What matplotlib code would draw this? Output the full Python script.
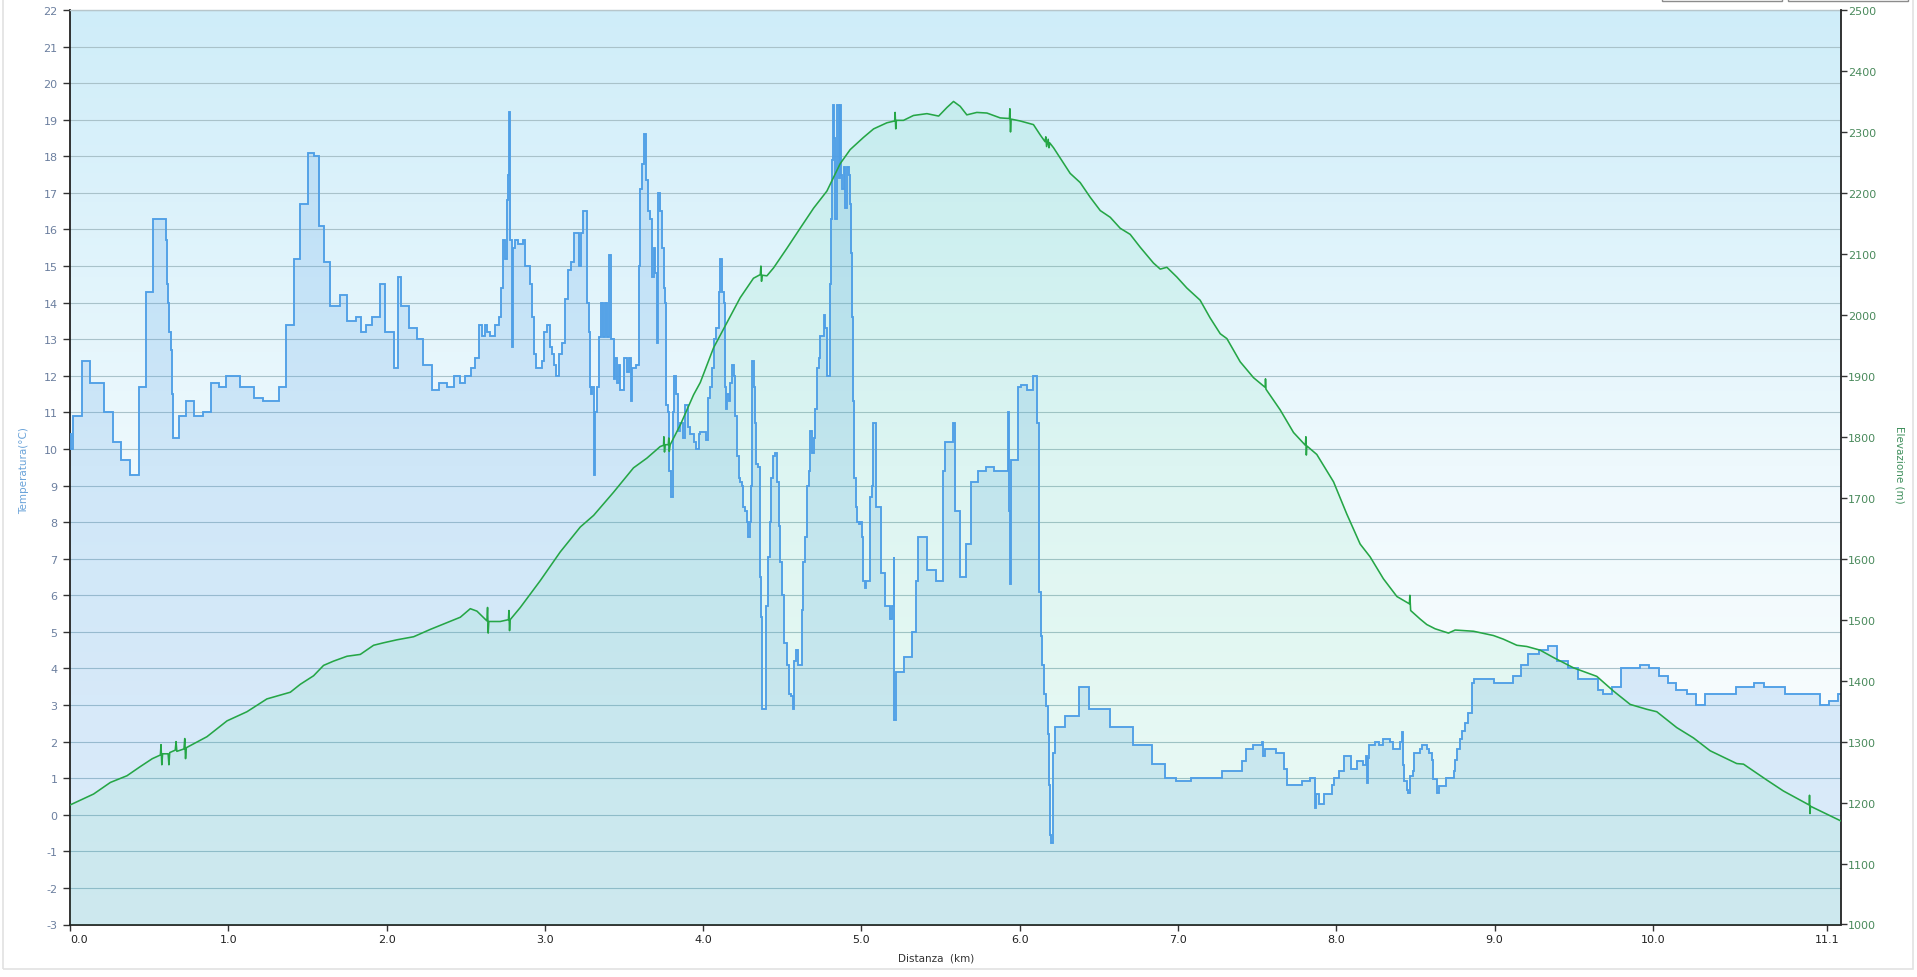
import matplotlib
matplotlib.use("Agg")
import matplotlib.pyplot as plt
import numpy as np
from matplotlib.colors import LinearSegmentedColormap
from matplotlib.patches import Rectangle

# ---------------- data ----------------
temp_km = [0.000, 0.004, 0.019, 0.076, 0.124, 0.212, 0.269, 0.320, 0.381, 0.438,
           0.482, 0.524, 0.604, 0.612, 0.619, 0.625, 0.636, 0.642, 0.652, 0.686,
           0.735, 0.781, 0.840, 0.891, 0.939, 0.987, 1.076, 1.160, 1.217, 1.318,
           1.364, 1.417, 1.451, 1.501, 1.543, 1.571, 1.602, 1.644, 1.708, 1.750,
           1.807, 1.838, 1.872, 1.908, 1.956, 1.992, 2.049, 2.070, 2.091, 2.139,
           2.192, 2.230, 2.287, 2.329, 2.381, 2.423, 2.466, 2.497, 2.533, 2.560,
           2.581, 2.602, 2.623, 2.634, 2.655, 2.687, 2.712, 2.723, 2.735, 2.750,
           2.760, 2.767, 2.775, 2.781, 2.792, 2.798, 2.813, 2.830, 2.861, 2.876,
           2.904, 2.918, 2.933, 2.946, 2.981, 2.996, 3.013, 3.030, 3.045, 3.055,
           3.070, 3.087, 3.108, 3.129, 3.146, 3.165, 3.182, 3.217, 3.230, 3.238,
           3.266, 3.276, 3.283, 3.291, 3.299, 3.308, 3.318, 3.329, 3.344, 3.354,
           3.367, 3.377, 3.392, 3.403, 3.419, 3.434, 3.445, 3.455, 3.466, 3.476,
           3.497, 3.518, 3.529, 3.544, 3.552, 3.577, 3.592, 3.603, 3.613, 3.624,
           3.636, 3.649, 3.666, 3.676, 3.687, 3.697, 3.708, 3.718, 3.729, 3.740,
           3.750, 3.761, 3.767, 3.775, 3.784, 3.796, 3.807, 3.817, 3.828, 3.841,
           3.855, 3.872, 3.887, 3.902, 3.919, 3.940, 3.956, 3.971, 3.982, 4.020,
           4.028, 4.041, 4.055, 4.070, 4.083, 4.098, 4.108, 4.119, 4.129, 4.138,
           4.142, 4.150, 4.161, 4.171, 4.182, 4.192, 4.203, 4.213, 4.224, 4.234,
           4.245, 4.255, 4.266, 4.276, 4.283, 4.293, 4.302, 4.308, 4.319, 4.325,
           4.335, 4.344, 4.357, 4.365, 4.371, 4.399, 4.409, 4.420, 4.430, 4.441,
           4.455, 4.466, 4.479, 4.487, 4.498, 4.508, 4.529, 4.540, 4.554, 4.565,
           4.575, 4.584, 4.597, 4.624, 4.634, 4.645, 4.656, 4.666, 4.677, 4.687,
           4.698, 4.708, 4.719, 4.729, 4.740, 4.761, 4.771, 4.782, 4.799, 4.807,
           4.814, 4.820, 4.828, 4.835, 4.845, 4.856, 4.862, 4.870, 4.879, 4.887,
           4.898, 4.908, 4.919, 4.925, 4.934, 4.940, 4.946, 4.955, 4.963, 4.971,
           4.982, 4.992, 5.001, 5.009, 5.020, 5.030, 5.056, 5.066, 5.073, 5.091,
           5.125, 5.150, 5.182, 5.192, 5.203, 5.209, 5.220, 5.272, 5.319, 5.346,
           5.355, 5.414, 5.470, 5.513, 5.529, 5.576, 5.593, 5.624, 5.658, 5.694,
           5.734, 5.788, 5.835, 5.925, 5.932, 5.938, 5.944, 5.988, 6.007, 6.047,
           6.087, 6.108, 6.119, 6.125, 6.134, 6.140, 6.151, 6.167, 6.176, 6.184,
           6.193, 6.199, 6.212, 6.224, 6.287, 6.372, 6.441, 6.572, 6.713, 6.835,
           6.919, 6.989, 7.081, 7.277, 7.403, 7.431, 7.473, 7.530, 7.540, 7.551,
           7.620, 7.673, 7.688, 7.783, 7.835, 7.867, 7.873, 7.888, 7.894, 7.924,
           7.972, 7.987, 8.020, 8.050, 8.094, 8.130, 8.172, 8.189, 8.193, 8.199,
           8.210, 8.246, 8.267, 8.298, 8.340, 8.357, 8.404, 8.414, 8.421, 8.429,
           8.446, 8.456, 8.467, 8.484, 8.492, 8.530, 8.541, 8.572, 8.589, 8.604,
           8.614, 8.635, 8.646, 8.694, 8.741, 8.751, 8.766, 8.783, 8.793, 8.814,
           8.835, 8.856, 8.871, 8.997, 9.115, 9.166, 9.210, 9.278, 9.337, 9.393,
           9.463, 9.526, 9.652, 9.688, 9.741, 9.798, 9.916, 9.979, 10.042, 10.095,
           10.147, 10.219, 10.274, 10.330, 10.526, 10.642, 10.705, 10.836, 11.057, 11.116,
           11.173, 11.187]

temp_c = [10.4, 10.0, 10.9, 12.4, 11.8, 11.0, 10.2, 9.7, 9.3, 11.7,
          14.3, 16.3, 15.7, 14.5, 14.0, 13.2, 12.7, 11.5, 10.3, 10.9,
          11.3, 10.9, 11.0, 11.8, 11.7, 12.0, 11.7, 11.4, 11.3, 11.7,
          13.4, 15.2, 16.7, 18.1, 18.0, 16.1, 15.1, 13.9, 14.2, 13.5,
          13.6, 13.2, 13.4, 13.6, 14.5, 13.2, 12.2, 14.7, 13.9, 13.3,
          13.0, 12.3, 11.6, 11.8, 11.7, 12.0, 11.8, 12.0, 12.2, 12.5,
          13.4, 13.1, 13.4, 13.2, 13.1, 13.4, 13.6, 14.4, 15.7, 15.2,
          16.8, 17.5, 19.2, 15.7, 12.8, 15.5, 15.7, 15.6, 15.7, 15.0,
          14.5, 13.6, 12.6, 12.2, 12.4, 13.2, 13.4, 12.8, 12.6, 12.3,
          12.0, 12.6, 12.9, 14.1, 14.9, 15.1, 15.9, 15.0, 15.9, 16.5,
          14.0, 13.2, 11.7, 11.5, 11.7, 9.3, 11.0, 11.7, 13.05, 14.0,
          13.05, 14.0, 13.05, 15.3, 13.0, 11.9, 12.5, 11.8, 12.3, 11.6,
          12.5, 12.1, 12.5, 11.3, 12.2, 12.3, 15.0, 17.1, 17.8, 18.6,
          17.35, 16.5, 16.3, 14.7, 15.5, 14.8, 12.9, 17.0, 16.5, 15.5,
          14.4, 14.0, 11.2, 11.0, 9.4, 8.7, 11.0, 12.0, 11.5, 10.5,
          10.7, 10.3, 11.2, 10.6, 10.4, 10.2, 10.0, 10.4, 10.45, 10.25,
          11.4, 11.7, 12.2, 13.0, 13.3, 14.3, 15.2, 14.3, 14.0, 11.7,
          11.1, 11.5, 11.3, 11.8, 12.3, 12.0, 10.9, 9.8, 9.2, 9.1,
          9.0, 8.4, 8.3, 8.0, 7.6, 8.0, 9.0, 12.4, 11.7, 10.7,
          9.6, 9.5, 6.5, 5.4, 2.9, 5.7, 7.05, 8.0, 9.2, 9.8,
          9.9, 9.1, 7.9, 6.9, 6.0, 4.7, 4.1, 3.3, 3.25, 2.9,
          4.2, 4.5, 4.1, 5.6, 6.9, 7.6, 9.0, 9.4, 10.5, 9.9,
          10.3, 11.1, 12.2, 12.5, 13.1, 13.65, 13.3, 12.0, 14.5, 16.3,
          17.9, 19.4, 18.5, 16.3, 19.4, 17.4, 19.4, 17.5, 17.1, 17.7,
          16.6, 17.7, 17.5, 16.7, 15.35, 13.6, 11.3, 9.2, 8.4, 8.0,
          7.95, 8.0, 7.6, 6.4, 6.2, 6.4, 8.7, 9.0, 10.7, 8.4,
          6.6, 5.7, 5.35, 5.7, 7.05, 2.6, 3.9, 4.3, 5.0, 6.4,
          7.6, 6.7, 6.4, 9.4, 10.2, 10.7, 8.3, 6.5, 7.4, 9.1,
          9.4, 9.5, 9.4, 11.0, 8.3, 6.3, 9.7, 11.7, 11.75, 11.6,
          12.0, 10.7, 7.9, 6.1, 4.9, 4.1, 3.3, 2.97, 2.2, 0.8,
          -0.56, -0.77, 1.7, 2.4, 2.7, 3.5, 2.9, 2.4, 1.9, 1.4,
          1.0, 0.93, 1.0, 1.2, 1.48, 1.8, 1.9, 2.0, 1.6, 1.8,
          1.7, 1.25, 0.8, 0.93, 1.0, 0.18, 0.58, 0.5, 0.3, 0.58,
          0.8, 1.0, 1.2, 1.6, 1.25, 1.48, 1.35, 1.6, 0.87, 1.55,
          1.9, 2.0, 1.9, 2.07, 2.0, 1.8, 2.0, 2.27, 1.35, 0.93,
          0.67, 0.6, 1.07, 1.2, 1.7, 1.8, 1.9, 1.79, 1.7, 1.5,
          0.97, 0.6, 0.79, 1.0, 1.2, 1.5, 1.79, 2.06, 2.29, 2.52,
          2.79, 3.61, 3.7, 3.61, 3.8, 4.09, 4.39, 4.5, 4.6, 4.2,
          4.0, 3.7, 3.4, 3.29, 3.5, 4.0, 4.09, 4.0, 3.8, 3.59,
          3.4, 3.3, 3.0, 3.3, 3.5, 3.59, 3.5, 3.3, 3.0, 3.1,
          3.3, 3.3]

elev_km = [0.000, 0.149, 0.255, 0.360, 0.444, 0.520, 0.571, 0.575, 0.580, 0.585,
           0.620, 0.625, 0.630, 0.665, 0.670, 0.675, 0.720, 0.725, 0.730, 0.735,
           0.865, 0.992, 1.118, 1.244, 1.392, 1.455, 1.539, 1.602, 1.665, 1.750,
           1.834, 1.918, 1.980, 2.066, 2.171, 2.276, 2.381, 2.466, 2.529, 2.571,
           2.634, 2.638, 2.642, 2.646, 2.718, 2.770, 2.773, 2.777, 2.781, 2.845,
           2.971, 3.097, 3.224, 3.308, 3.434, 3.560, 3.645, 3.729, 3.750, 3.752,
           3.756, 3.760, 3.780, 3.783, 3.786, 3.792, 3.855, 3.940, 3.982, 4.066,
           4.150, 4.234, 4.318, 4.361, 4.365, 4.369, 4.373, 4.403, 4.445, 4.529,
           4.613, 4.698, 4.782, 4.866, 4.929, 5.013, 5.077, 5.161, 5.210, 5.213,
           5.217, 5.221, 5.266, 5.329, 5.414, 5.488, 5.540, 5.582, 5.624, 5.666,
           5.729, 5.793, 5.877, 5.935, 5.938, 5.942, 5.946, 6.003, 6.087, 6.130,
           6.160, 6.165, 6.170, 6.180, 6.185, 6.190, 6.214, 6.319, 6.382, 6.445,
           6.509, 6.572, 6.635, 6.698, 6.761, 6.845, 6.888, 6.930, 6.993, 7.056,
           7.140, 7.203, 7.267, 7.309, 7.393, 7.477, 7.551, 7.553, 7.556, 7.646,
           7.730, 7.805, 7.808, 7.811, 7.814, 7.877, 7.983, 8.067, 8.151, 8.214,
           8.298, 8.383, 8.462, 8.465, 8.470, 8.530, 8.572, 8.625, 8.709, 8.751,
           8.867, 8.993, 9.056, 9.141, 9.204, 9.288, 9.372, 9.499, 9.646, 9.751,
           9.857, 9.962, 10.025, 10.151, 10.257, 10.362, 10.530, 10.573, 10.720, 10.825,
           10.988, 10.990, 10.993, 10.996, 11.099, 11.187]

elev_m = [1196, 1214, 1233, 1244, 1259, 1272, 1278, 1295, 1262, 1280,
          1280, 1262, 1282, 1286, 1300, 1284, 1288, 1305, 1272, 1290,
          1308, 1334, 1349, 1370, 1381, 1394, 1408, 1425, 1432, 1440,
          1443, 1458, 1462, 1467, 1472, 1484, 1495, 1504, 1518, 1514,
          1498, 1520, 1478, 1497, 1497, 1500, 1515, 1482, 1500, 1520,
          1564, 1611, 1652, 1671, 1709, 1749, 1765, 1784, 1786, 1800,
          1775, 1787, 1787, 1798, 1776, 1787, 1819, 1869, 1889, 1946,
          1987, 2028, 2060, 2066, 2080, 2055, 2065, 2064, 2077, 2109,
          2142, 2175, 2203, 2248, 2271, 2291, 2305, 2315, 2318, 2332,
          2305, 2319, 2319, 2327, 2330, 2326, 2340, 2350, 2342, 2328,
          2332, 2331, 2323, 2322, 2338, 2300, 2321, 2318, 2312, 2295,
          2284, 2292, 2276, 2288, 2274, 2282, 2274, 2232, 2217, 2193,
          2171, 2160, 2142, 2132, 2111, 2085, 2075, 2078, 2062, 2044,
          2024, 1995, 1969, 1961, 1923, 1897, 1881, 1895, 1878, 1844,
          1807, 1786, 1800, 1770, 1785, 1771, 1726, 1673, 1624, 1603,
          1567, 1538, 1526, 1540, 1515, 1501, 1492, 1485, 1478, 1483,
          1481, 1474, 1468, 1458, 1456, 1450, 1438, 1421, 1407, 1383,
          1361, 1353, 1349, 1323, 1306, 1285, 1264, 1263, 1237, 1219,
          1196, 1212, 1182, 1194, 1181, 1170]

x_ticks = [0, 1, 2, 3, 4, 5, 6, 7, 8, 9, 10, 11.1]
x_tick_labels = ["0.0", "1.0", "2.0", "3.0", "4.0", "5.0", "6.0", "7.0", "8.0", "9.0", "10.0", "11.1"]
temp_ticks = list(range(-3, 23))
elev_ticks = list(range(1000, 2501, 100))
X_MAX = 11.187

# ---------------- figure ----------------
W, H = 1917, 978
fig = plt.figure(figsize=(W / 100, H / 100), dpi=100)
fig.patch.set_facecolor("white")

L, R, T, B = 70, 1840.7, 11, 925.5
ax = fig.add_axes([L / W, 1 - B / H, (R - L) / W, (B - T) / H])

# background gradient
bg = LinearSegmentedColormap.from_list("bg", ["#cfedf9", "#eef9fd", "#ffffff"])
ax.imshow(np.linspace(0, 1, 256).reshape(-1, 1), cmap=bg, aspect="auto",
          extent=[0, X_MAX, -3, 22], origin="upper", zorder=0)

ax.set_axisbelow(True)
ax.yaxis.grid(True, color="#a9c2ca", lw=0.8, zorder=0.5)
ax.xaxis.grid(False)

# temperature fill
ax.fill_between(temp_km, temp_c, -3, step="post", color="#4d9be6", alpha=0.19,
                lw=0, zorder=1)

ax2 = ax.twinx()
ax2.fill_between(elev_km, elev_m, 1000, color="#36d487", alpha=0.09, lw=0, zorder=1)
# temperature line drawn on the upper axes but in temperature data coordinates
ax2.step(temp_km, temp_c, where="post", color="#4f9fe6", lw=1.35,
         transform=ax.transData, zorder=2, solid_joinstyle="miter")
ax2.plot(elev_km, elev_m, color="#25a646", lw=1.15, zorder=3)

ax.set_xlim(0, X_MAX)
ax.set_ylim(-3, 22)
ax2.set_ylim(1000, 2500)
ax2.set_xlim(0, X_MAX)

# ticks
ax.set_yticks(temp_ticks)
ax.set_yticklabels([str(t) for t in temp_ticks])
ax.tick_params(axis="y", direction="out", length=5, width=1, color="#333333",
               labelsize=8, labelcolor="#6b7f9f", pad=4)
ax.set_xticks(x_ticks)
ax.set_xticklabels(x_tick_labels)
ax.tick_params(axis="x", direction="out", length=4, width=1, color="#333333",
               labelsize=8, labelcolor="#222222", pad=3)
ax.get_xticklabels()[0].set_horizontalalignment("left")

ax2.set_yticks(elev_ticks)
ax2.set_yticklabels([str(e) for e in elev_ticks])
ax2.tick_params(axis="y", direction="out", length=4.3, width=1, color="#333333",
                labelsize=8, labelcolor="#4a8a5c", pad=1)

for sp in ["left", "bottom"]:
    ax.spines[sp].set_color("#222222")
    ax.spines[sp].set_linewidth(1.3)
ax.spines["top"].set_color("#b7c6cb")
ax.spines["top"].set_linewidth(1)
ax.spines["right"].set_visible(False)
ax2.spines["right"].set_color("#222222")
ax2.spines["right"].set_linewidth(1.3)
ax2.spines["left"].set_visible(False)
ax2.spines["bottom"].set_visible(False)
ax2.spines["top"].set_visible(False)

# axis titles
fig.text(24 / W, 1 - 471 / H, "Temperatura(°C)", rotation=90, color="#6aa3d9",
         fontsize=7.5, ha="center", va="center")
fig.text(1899 / W, 1 - 465 / H, "Elevazione (m)", rotation=270, color="#3f8f5c",
         fontsize=7.5, ha="center", va="center")
fig.text(936 / W, 1 - 958.5 / H, "Distanza  (km)", color="#333333",
         fontsize=7.5, ha="center", va="center")

# outer frame and top-right buttons
fig.add_artist(Rectangle((3 / W, 1 - 970 / H), (1913 - 3) / W, 980 / H,
                         transform=fig.transFigure, fill=False, ec="#e2e2e2", lw=1.2))
for x0, x1 in [(1662, 1782), (1788, 1908)]:
    fig.add_artist(Rectangle((x0 / W, 1 - 2 / H), (x1 - x0) / W, 30 / H,
                             transform=fig.transFigure, fc="white", ec="#8c8c8c", lw=1))

fig.savefig("out.png", dpi=100)
